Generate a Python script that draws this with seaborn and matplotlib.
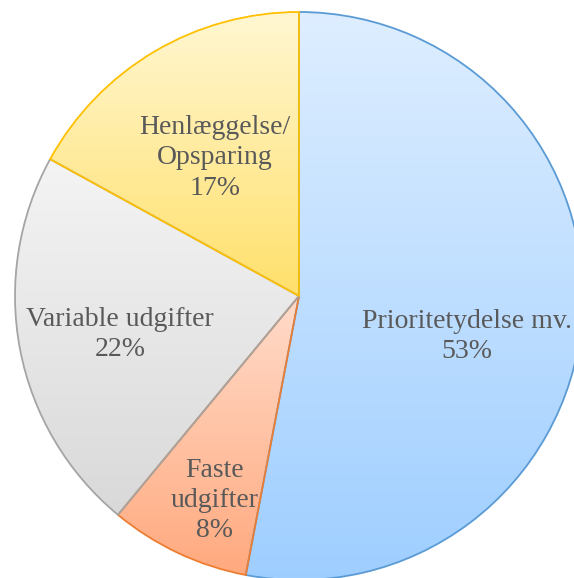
import numpy as np
import matplotlib
matplotlib.use("Agg")
import matplotlib.pyplot as plt
import matplotlib.colors as mcolors
import seaborn as sns

categories = ['Prioritetydelse mv.', 'Faste udgifter', 'Variable udgifter', 'Henlæggelse/Opsparing']
shares = [53, 8, 22, 17]
label_texts = ['Prioritetydelse mv.\n53%', 'Faste\nudgifter\n8%', 'Variable udgifter\n22%', 'Henlæggelse/\nOpsparing\n17%']

# gradient top/bottom colours and outline colour per slice
grad_top = ['#DEEEFF', '#FFDCCB', '#F4F4F4', '#FFF7D2']
grad_bottom = ['#9ECEFF', '#FFA97E', '#D9D9D9', '#FFE06C']
edge_cols = ['#5B9BD5', '#ED7D31', '#A5A5A5', '#FFC000']
label_pos = [(0.59, -0.144), (-0.296, -0.72), (-0.63, -0.137), (-0.296, 0.486)]

sns.set_theme(style="white")
plt.rcParams['font.family'] = ['Liberation Serif', 'DejaVu Serif']

W, H = 574, 578
fig = plt.figure(figsize=(W / 100, H / 100), dpi=100)
cx, cy, r = 299, 296, 284
ax = fig.add_axes([(cx - r) / W, (H - cy - r) / H, 2 * r / W, 2 * r / H])

wedges, _ = ax.pie(shares, startangle=90, counterclock=False, radius=1,
                   wedgeprops=dict(linewidth=1.3))

grad = np.linspace(0, 1, 256).reshape(-1, 1)
for w, top, bot, ec in zip(wedges, grad_top, grad_bottom, edge_cols):
    verts = w.get_path().vertices
    x0, x1 = verts[:, 0].min(), verts[:, 0].max()
    y0, y1 = verts[:, 1].min(), verts[:, 1].max()
    cmap = mcolors.LinearSegmentedColormap.from_list('g', [top, bot])
    im = ax.imshow(grad, cmap=cmap, extent=(x0, x1, y0, y1), origin='upper',
                   aspect='auto', zorder=1, interpolation='bilinear')
    im.set_clip_path(w)
    w.set_facecolor('none')
    w.set_edgecolor(ec)
    w.set_zorder(3)

for txt, (tx, ty) in zip(label_texts, label_pos):
    ax.text(tx, ty, txt, ha='center', va='center', fontsize=20,
            color='#595959', linespacing=1.27, zorder=4)

ax.set_xlim(-1, 1)
ax.set_ylim(-1, 1)
ax.set_aspect('equal')
ax.axis('off')

fig.savefig('out.png', dpi=100)
